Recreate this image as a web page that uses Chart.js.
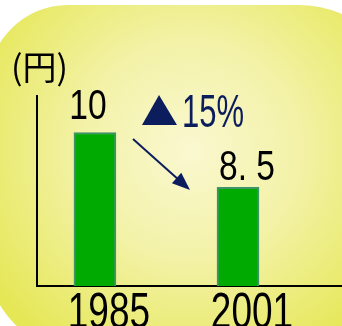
<!DOCTYPE html>
<html lang="ja">
<head>
    <meta charset="UTF-8">
    <title>価格の推移</title>
    <script src="https://cdn.jsdelivr.net/npm/chart.js"></script>
    <style>
        body { margin: 0; background: #fff; }
        #containerCanvas { width: 342px; height: 326px; }
    </style>
</head>
<body>
    <div id="containerCanvas">
        <canvas id="myChart" width="342" height="326"></canvas>
    </div>

<script>
// dados do gráfico
var anos = ['1985', '2001'];
var precos = [10, 8.5];
var textoVariacao = '▲15%';
var unidade = '(円)';

var azul = '#0c1d5e';

// texto estreito (fonte condensada simulada com escala horizontal)
function textoEstreito(ctx, txt, x, y, tam, alinhar, esc) {
    esc = esc || 0.8;
    ctx.save();
    ctx.font = tam + "px 'Liberation Sans', sans-serif";
    ctx.textBaseline = 'alphabetic';
    ctx.textAlign = 'left';
    var larg = ctx.measureText(txt).width * esc;
    var x0 = x;
    if (alinhar === 'center') x0 = x - larg / 2;
    ctx.translate(x0, y);
    ctx.scale(esc, 1);
    ctx.fillText(txt, 0, 0);
    ctx.restore();
}

// fundo amarelo com cantos arredondados
var fundo = {
    id: 'fundo',
    beforeDraw: function (chart) {
        var ctx = chart.ctx;
        ctx.save();
        var grad = ctx.createRadialGradient(190, 150, 0, 190, 150, 240);
        grad.addColorStop(0, '#faf8d0');
        grad.addColorStop(0.45, '#f3f2a8');
        grad.addColorStop(1, '#e5e755');
        ctx.fillStyle = grad;
        ctx.beginPath();
        ctx.roundRect(-12, 5, 420, 345, [80, 110, 60, 90]);
        ctx.fill();
        ctx.restore();
    }
};

// rótulos de valor, anos, unidade e seta de variação
var textos = {
    id: 'textos',
    afterDraw: function (chart) {
        var ctx = chart.ctx;
        var barras = chart.getDatasetMeta(0).data;
        var escalaX = chart.scales.x;
        var desloc = [[-7, -14], [9, -7]];
        ctx.save();
        ctx.fillStyle = '#000';
        barras.forEach(function (b, i) {
            var txt = String(precos[i]).replace('.', '. ');
            textoEstreito(ctx, txt, b.x + desloc[i][0], b.y + desloc[i][1], 42, 'center');
        });
        anos.forEach(function (a, i) {
            textoEstreito(ctx, a, escalaX.getPixelForValue(i) + 14, 328, 50, 'center', 0.74);
        });

        ctx.font = "34px 'Noto Sans CJK JP', sans-serif";
        ctx.textAlign = 'left';
        ctx.fillText(unidade, 11, 80);

        // ▲15%
        ctx.fillStyle = azul;
        ctx.beginPath();
        ctx.moveTo(159, 95);
        ctx.lineTo(177, 125);
        ctx.lineTo(142, 125);
        ctx.closePath();
        ctx.fill();
        textoEstreito(ctx, textoVariacao.slice(1), 182, 127, 47, 'left', 0.66);

        // seta
        var x1 = 133, y1 = 139, x2 = 190, y2 = 190;
        var ang = Math.atan2(y2 - y1, x2 - x1);
        ctx.strokeStyle = azul;
        ctx.lineWidth = 2;
        ctx.beginPath();
        ctx.moveTo(x1, y1);
        ctx.lineTo(x2 - 10 * Math.cos(ang), y2 - 10 * Math.sin(ang));
        ctx.stroke();
        ctx.beginPath();
        ctx.moveTo(x2, y2);
        ctx.lineTo(x2 - 18 * Math.cos(ang) + 7 * Math.sin(ang), y2 - 18 * Math.sin(ang) - 7 * Math.cos(ang));
        ctx.lineTo(x2 - 18 * Math.cos(ang) - 7 * Math.sin(ang), y2 - 18 * Math.sin(ang) + 7 * Math.cos(ang));
        ctx.closePath();
        ctx.fill();
        ctx.restore();
    }
};

var dados = {
    datasets: [{
        data: precos.map(function (v, i) { return { x: i, y: v }; }),
        backgroundColor: '#00aa00',
        borderColor: '#3c9468',
        borderWidth: 2,
        borderSkipped: 'bottom',
        barThickness: 42
    }]
};

var config = {
    type: 'bar',
    data: dados,
    options: {
        responsive: false,
        animation: false,
        layout: { padding: { top: 96, right: 0, left: 0, bottom: 0 } },
        plugins: { legend: { display: false }, tooltip: { enabled: false } },
        scales: {
            x: {
                type: 'linear',
                min: -0.405,
                max: 1.727,
                offset: false,
                grid: { display: false },
                border: { color: '#000', width: 2 },
                afterBuildTicks: function (scale) {
                    scale.ticks = anos.map(function (a, i) { return { value: i }; });
                },
                afterFit: function (scale) { scale.height = 40; },
                ticks: { display: false }
            },
            y: {
                min: 5.8,
                max: 11,
                grid: { display: false },
                border: { color: '#000', width: 2 },
                ticks: { display: false },
                afterFit: function (scale) { scale.width = 37; }
            }
        }
    },
    plugins: [fundo, textos]
};

var myChart = new Chart(document.getElementById('myChart'), config);
</script>
</body>
</html>
